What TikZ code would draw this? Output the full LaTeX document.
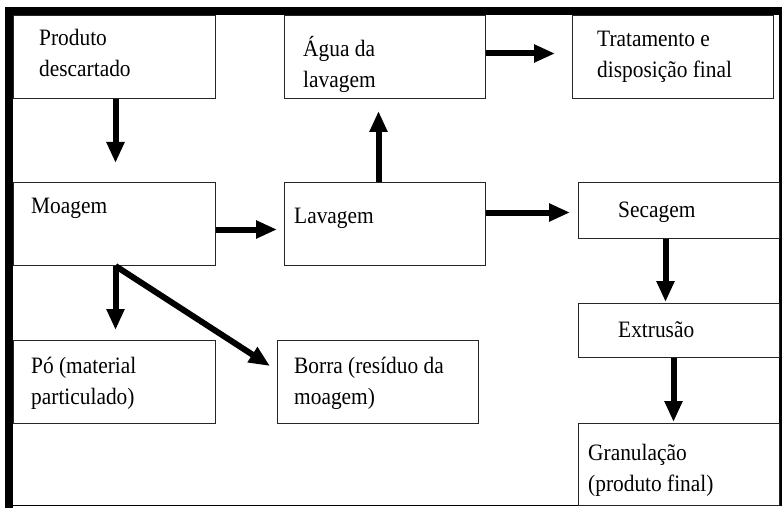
\documentclass[tikz,border=0pt]{standalone}
\usepackage{fontspec}
\setmainfont{Liberation Serif}[FakeStretch=0.91]
\usetikzlibrary{arrows.meta,calc}

\tikzset{
  box/.style={draw=black!85, line width=1pt, anchor=north west, inner sep=0pt},
  % anchored at the baseline of the last line of the text
  lbl/.style={anchor=base west, align=left, inner sep=0pt,
              font=\fontsize{23.5}{31}\selectfont},
  flow/.style={line width=6pt, -{Triangle[length=21pt,width=17pt]}},
}

\begin{document}
\begin{tikzpicture}[x=1pt, y=-1pt]
\useasboundingbox (0,0) rectangle (782,508);

% outer frame
\fill (5,7) rectangle (782,15);
\fill (5,7) rectangle (13,508);
\fill (779,7) rectangle (782,506);
\draw[line width=1pt] (13,505.5) -- (782,505.5);

% process boxes
\node[box, minimum width=202pt, minimum height=83pt] (prod)  at (13,15)  {};
\node[box, minimum width=201pt, minimum height=83pt] (agua)  at (284,15) {};
\node[box, minimum width=201pt, minimum height=83pt] (trat)  at (572,15) {};
\node[box, minimum width=202pt, minimum height=83pt] (moag)  at (13,182) {};
\node[box, minimum width=201pt, minimum height=83pt] (lav)   at (284,182) {};
\node[box, minimum width=201pt, minimum height=56pt] (sec)   at (578,182) {};
\node[box, minimum width=201pt, minimum height=54pt] (ext)   at (578,303) {};
\node[box, minimum width=201pt, minimum height=82pt] (gran)  at (578,423) {};
\node[box, minimum width=202pt, minimum height=83pt] (po)    at (13,340) {};
\node[box, minimum width=201pt, minimum height=83pt] (borra) at (277,340) {};

% box texts
\node[lbl] (prodtxt)  at (39,77)   {Produto\\descartado};
\node[lbl] (aguatxt)  at (303,88)  {Água da\\lavagem};
\node[lbl] (trattxt)  at (597,78)  {Tratamento e\\disposição final};
\node[lbl] (moagtxt)  at (31,213)  {Moagem};
\node[lbl] (lavtxt)   at (294,223) {Lavagem};
\node[lbl] (sectxt)   at (618,217) {Secagem};
\node[lbl] (exttxt)   at (618,337) {Extrusão};
\node[lbl] (potxt)    at (31,404)  {Pó (material\\particulado)};
\node[lbl] (borratxt) at (294,404) {Borra (resíduo da\\moagem)};
\node[lbl] (grantxt)  at (588,491) {Granulação\\(produto final)};

% flow arrows
\draw[flow] ($(prod.south)+(1,0)$)  -- ($(moag.north)+(1,-19)$);
\draw[flow] ($(moag.east)+(0,5.5)$) -- ($(lav.west)+(-7,5.5)$);
\draw[flow] ($(lav.north)+(-6.5,0)$) -- ($(agua.south)+(-6.5,12)$);
\draw[flow] ($(agua.east)+(0,-3.5)$) -- ($(trat.west)+(-17,-3.5)$);
\draw[flow] ($(lav.east)+(0,-11.5)$) -- ($(sec.west)+(-8,2)$);
\draw[flow] ($(moag.south)+(1,0)$)  -- ($(po.north)+(1,-10)$);
\draw[flow] ($(moag.south)+(1,0)$)  -- ($(borra.north west)+(-7,26)$);
\draw[flow] ($(sec.south)+(-13.5,0)$) -- ($(ext.north)+(-13.5,-1)$);
\draw[flow] ($(ext.south)+(-5.5,0)$) -- ($(gran.north)+(-5.5,-1)$);
\end{tikzpicture}
\end{document}
